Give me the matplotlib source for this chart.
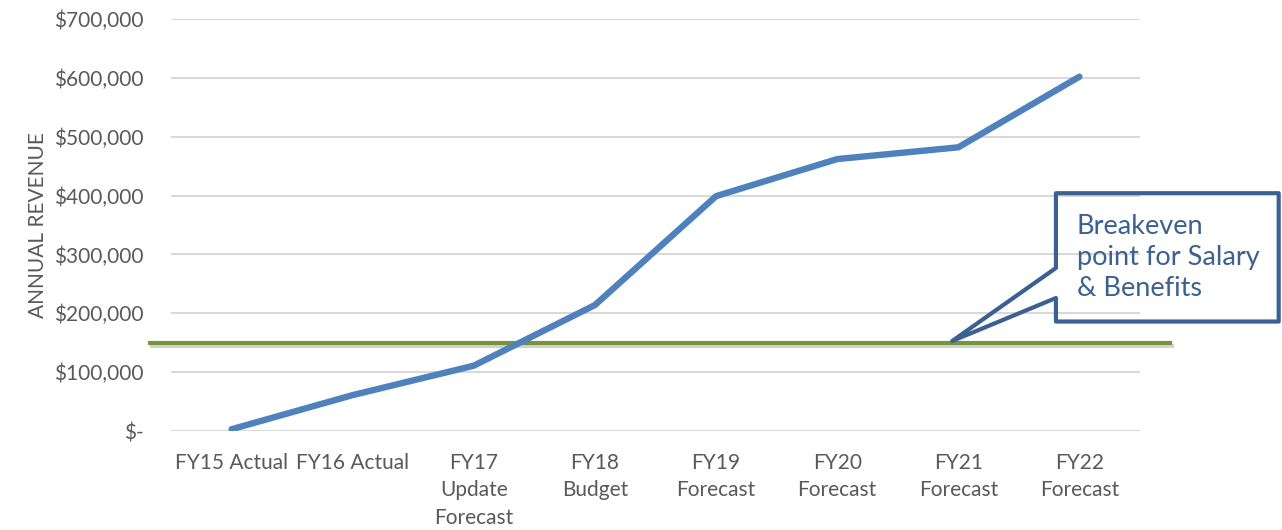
import matplotlib
matplotlib.use('Agg')
import matplotlib.pyplot as plt
import matplotlib.patheffects as pe
from matplotlib.patches import Polygon
from matplotlib.ticker import FuncFormatter

plt.rcParams['font.family'] = ['Lato', 'DejaVu Sans']

categories = ['FY15 Actual', 'FY16 Actual', 'FY17\nUpdate\nForecast', 'FY18\nBudget',
              'FY19\nForecast', 'FY20\nForecast', 'FY21\nForecast', 'FY22\nForecast']
revenue = [3000, 61000, 111000, 214000, 399000, 462000, 482000, 602000]
breakeven = 150000
callout_text = 'Breakeven\npoint for Salary\n& Benefits'

fig = plt.figure(figsize=(12.82, 5.30), dpi=100)
ax = fig.add_axes([171 / 1282, 1 - 431 / 530, (1140 - 171) / 1282, (431 - 19) / 530])

x = list(range(len(categories)))
ax.plot(x, revenue, color='#4F81BD', linewidth=4.6, solid_capstyle='round',
        solid_joinstyle='round', zorder=4)

# breakeven line runs a little past both sides of the plot area
ax.plot([-0.67, 7.75], [breakeven, breakeven], color='#77933C', linewidth=3,
        clip_on=False, zorder=3,
        path_effects=[pe.SimpleLineShadow(offset=(1, -2.5), shadow_color='#7F7F7F', alpha=0.35),
                      pe.Normal()])

ax.set_xlim(-0.5, len(categories) - 0.5)
ax.set_ylim(0, 700000)
ax.set_yticks(range(0, 700001, 100000))
ax.yaxis.set_major_formatter(FuncFormatter(lambda v, p: '$-' if v == 0 else f'${v:,.0f}'))
ax.set_xticks(x)
ax.set_xticklabels(categories, linespacing=1.45)
ax.tick_params(length=0, labelsize=15, labelcolor='#595959')
ax.tick_params(axis='x', pad=16)
ax.tick_params(axis='y', pad=20)
ax.grid(axis='y', color='#D9D9D9', linewidth=1.5)
ax.set_axisbelow(True)
for s in ax.spines.values():
    s.set_visible(False)
ax.set_ylabel('ANNUAL REVENUE', fontsize=15, color='#595959', labelpad=4)

# callout box with a wedge pointing at the breakeven line
bx0, bx1 = 6.806, 8.645
by0, by1 = 186000, 404000
callout = Polygon([(bx0, by1), (bx1, by1), (bx1, by0), (bx0, by0),
                   (bx0, 226000), (5.95, 153000), (bx0, 277000)],
                  closed=True, fill=False, edgecolor='#3A6190', linewidth=3,
                  joinstyle='round', clip_on=False, zorder=5)
ax.add_patch(callout)
ax.text(bx0 + 0.17, 294000, callout_text, color='#3A6190', fontsize=19.5,
        va='center', ha='left', linespacing=1.3, zorder=6)

fig.savefig('out.png', dpi=100)
